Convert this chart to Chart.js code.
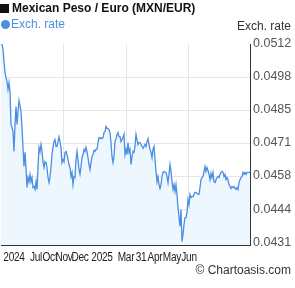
<!DOCTYPE html>
<html>
<head>
<meta charset="utf-8">
<script src="https://cdn.jsdelivr.net/npm/chart.js@4"></script>
<style>
  body { margin: 0; background: #fff; }
  .wrap { position: relative; width: 295px; height: 288px; font-family: Arial, "Liberation Sans", sans-serif; }
  .wrap canvas { position: absolute; left: 0; top: 0; }
  .title { position: absolute; left: 0px; top: 1px; font-size: 12px; font-weight: bold; color: #111; white-space: nowrap; }
  .title .sq { display: inline-block; width: 9px; height: 9px; background: #111; margin-right: 3px; vertical-align: -0.5px; }
  .legend { position: absolute; left: 1px; top: 17px; font-size: 12px; color: #4a8fe3; white-space: nowrap; }
  .legend .dot { display: inline-block; width: 9px; height: 9px; border-radius: 50%; background: #4a8fe3; margin-right: 1px; vertical-align: -0.5px; }
  .axis-title { position: absolute; right: 4px; top: 19px; font-size: 12px; color: #333; }
  .credit { position: absolute; right: 4px; top: 263px; font-size: 12px; color: #333; }
  .xlab { position: absolute; top: 250px; font-size: 12px; letter-spacing: -0.3px; color: #222; white-space: nowrap; transform: translateX(-50%) scaleX(0.84); }
</style>
</head>
<body>
<div class="wrap" id="wrap">
  <canvas id="rateChart" width="295" height="288"></canvas>
  <div class="title"><span class="sq"></span>Mexican Peso / Euro (MXN/EUR)</div>
  <div class="legend"><span class="dot"></span>Exch. rate</div>
  <div class="axis-title">Exch. rate</div>
  <div class="credit">&copy; Chartoasis.com</div>
</div>
<script>
// MXN/EUR daily rate
const rateValues = [
  0.05122, 0.05118, 0.05098, 0.05048, 0.05004, 0.04983, 0.04966, 0.04934, 0.04962, 0.04926,
  0.04791, 0.04779, 0.04762, 0.04681, 0.04791, 0.04864, 0.04791, 0.04844, 0.04889, 0.04868,
  0.04844, 0.04779, 0.04697, 0.04619, 0.04677, 0.04615, 0.04533, 0.04574, 0.04557, 0.04587,
  0.04557, 0.04574, 0.04533, 0.04537, 0.04525, 0.04557, 0.04525, 0.04615, 0.04697, 0.04681,
  0.04709, 0.04681, 0.04639, 0.04615, 0.04639, 0.04635, 0.04615, 0.04574, 0.04553, 0.04574,
  0.04615, 0.04668, 0.04697, 0.04721, 0.04729, 0.04701, 0.04701, 0.04721, 0.04741, 0.04721,
  0.04697, 0.04635, 0.04647, 0.04639, 0.04677, 0.04681, 0.04668, 0.04647, 0.04627, 0.04615,
  0.04578, 0.04595, 0.04545, 0.04578, 0.04574, 0.04647, 0.04681, 0.04647, 0.04607, 0.04587,
  0.04619, 0.04655, 0.04668, 0.04689, 0.04681, 0.04697, 0.04681, 0.04655, 0.04627, 0.04607,
  0.04635, 0.04659, 0.04668, 0.04685, 0.04681, 0.04689, 0.04689, 0.04717, 0.04737, 0.04733,
  0.04737, 0.04733, 0.04737, 0.04758, 0.04762, 0.04783, 0.04775, 0.04775, 0.04770, 0.04758,
  0.04717, 0.04659, 0.04635, 0.04659, 0.04721, 0.04733, 0.04750, 0.04758, 0.04741, 0.04741,
  0.04721, 0.04729, 0.04737, 0.04750, 0.04668, 0.04689, 0.04668, 0.04717, 0.04677, 0.04689,
  0.04627, 0.04659, 0.04681, 0.04677, 0.04701, 0.04750, 0.04729, 0.04709, 0.04717, 0.04717,
  0.04709, 0.04701, 0.04693, 0.04701, 0.04709, 0.04701, 0.04721, 0.04733, 0.04709, 0.04689,
  0.04677, 0.04655, 0.04689, 0.04701, 0.04647, 0.04599, 0.04557, 0.04578, 0.04545, 0.04529,
  0.04545, 0.04578, 0.04595, 0.04599, 0.04595, 0.04595, 0.04578, 0.04553, 0.04587, 0.04627,
  0.04599, 0.04557, 0.04525, 0.04545, 0.04517, 0.04545, 0.04505, 0.04451, 0.04414, 0.04374,
  0.04443, 0.04312, 0.04341, 0.04382, 0.04410, 0.04410, 0.04431, 0.04484, 0.04463, 0.04505,
  0.04492, 0.04496, 0.04496, 0.04505, 0.04513, 0.04513, 0.04509, 0.04505, 0.04505, 0.04533,
  0.04565, 0.04574, 0.04578, 0.04599, 0.04619, 0.04599, 0.04615, 0.04603, 0.04587, 0.04565,
  0.04591, 0.04574, 0.04595, 0.04557, 0.04553, 0.04565, 0.04574, 0.04578, 0.04574, 0.04587,
  0.04595, 0.04599, 0.04595, 0.04578, 0.04587, 0.04565, 0.04574, 0.04565, 0.04545, 0.04537,
  0.04529, 0.04537, 0.04533, 0.04537, 0.04529, 0.04525, 0.04533, 0.04525, 0.04553, 0.04565,
  0.04574, 0.04578, 0.04595, 0.04587, 0.04595, 0.04587, 0.04595, 0.04595, 0.04595, 0.04595
];

// x axis labels and the point they sit under
const xTickLabels = ["2024", "Jul", "Oct", "Nov", "Dec", "2025", "Mar", "31", "Apr", "May", "Jun"];
const xTickIndex = [13, 35, 49, 63, 79, 101, 125, 140, 154, 171, 188];
const xGridIndex = [62, 126, 187];

const yTickValues = [0.0431, 0.04445, 0.0458, 0.04715, 0.0485, 0.04985, 0.0512];
const yTickLabels = ["0.0431", "0.0444", "0.0458", "0.0471", "0.0485", "0.0498", "0.0512"];

const dayLabels = rateValues.map((v, i) => i);

const data = {
    labels: dayLabels,
    datasets: [
        {
            label: "Exch. rate",
            data: rateValues,
            borderColor: "#4a8fe3",
            borderWidth: 1.3,
            backgroundColor: "#eef6fe",
            fill: "origin",
            pointRadius: 0,
            tension: 0,
            yAxisID: "y"
        }
    ]
};

const config = {
    type: "line",
    data,
    options: {
        responsive: false,
        animation: false,
        events: [],
        layout: { padding: { left: 1, top: 44, right: 0, bottom: 0 } },
        plugins: {
            legend: { display: false },
            title: { display: false },
            tooltip: { enabled: false }
        },
        scales: {
            x: {
                type: "category",
                offset: false,
                border: { display: true, color: "#333", width: 1 },
                grid: {
                    drawTicks: false,
                    color: (ctx) => xGridIndex.includes(ctx.index) ? "#e6e6e6" : "rgba(0,0,0,0)"
                },
                ticks: { display: false, autoSkip: false, maxRotation: 0 },
                afterFit: (scale) => { scale.height = 43; }
            },
            y: {
                position: "right",
                min: 0.04298,
                max: 0.0512,
                border: { display: true, color: "#333", width: 1 },
                grid: {
                    drawTicks: false,
                    color: (ctx) => (ctx.index > 0 && ctx.index < yTickValues.length - 1) ? "#e6e6e6" : "rgba(0,0,0,0)"
                },
                ticks: {
                    padding: 3,
                    color: "#555",
                    font: { family: "Arial, 'Liberation Sans'", size: 12.5 },
                    callback: (value, index) => yTickLabels[index]
                },
                afterBuildTicks: (scale) => {
                    scale.ticks = yTickValues.map((v) => ({ value: v }));
                },
                afterFit: (scale) => { scale.width = 45; }
            },
            yl: {
                position: "left",
                min: 0.04298,
                max: 0.0512,
                border: { display: true, color: "#333", width: 1 },
                grid: { display: false },
                ticks: { display: false },
                afterFit: (scale) => { scale.width = 0; }
            }
        }
    }
};

var rateChart = new Chart(document.getElementById("rateChart"), config);

// x tick labels as text, placed with the chart's own x scale
const wrap = document.getElementById("wrap");
for (let i = 0; i < xTickLabels.length; i++) {
    let lab = document.createElement("div");
    lab.className = "xlab";
    lab.textContent = xTickLabels[i];
    lab.style.left = rateChart.scales.x.getPixelForValue(xTickIndex[i]) + "px";
    wrap.appendChild(lab);
}
</script>
</body>
</html>
